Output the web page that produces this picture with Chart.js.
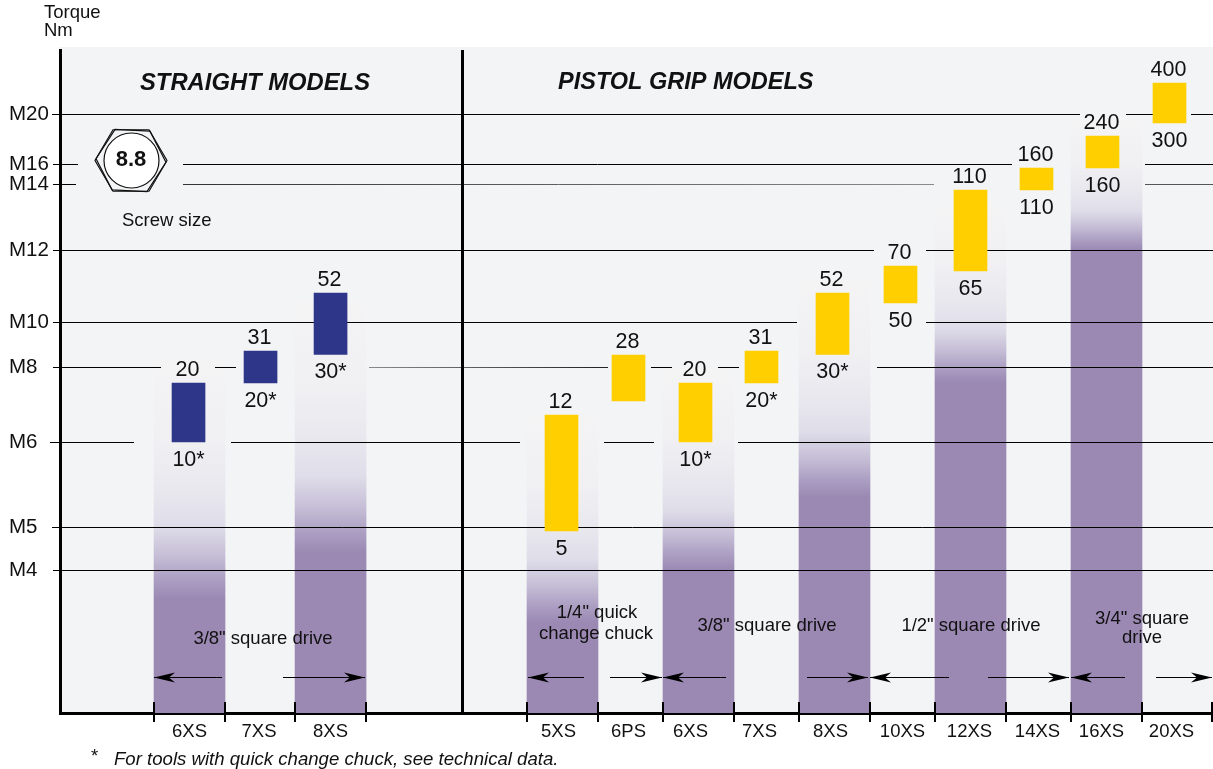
<!DOCTYPE html>
<html>
<head>
<meta charset="utf-8">
<title>Torque chart</title>
<style>
  html, body { margin: 0; padding: 0; background: #fff; }
  canvas { display: block; }
</style>
<script src="https://cdn.jsdelivr.net/npm/chart.js@4/dist/chart.umd.min.js"></script>
</head>
<body>
<canvas id="torqueChart" width="1213" height="769"></canvas>
<script>
// Tools
const straightTools = ['6XS', '7XS', '8XS']
const pistolTools = ['5XS', '6PS', '6XS', '7XS', '8XS', '10XS', '12XS', '14XS', '16XS', '20XS']

// Torque range of each tool, Nm (6PS has no printed lower value)
const straightLow = [10, 20, 30]
const straightHigh = [20, 31, 52]
const straightLowLabels = ['10*', '20*', '30*']
const straightHighLabels = ['20', '31', '52']
const pistolLow = [5, 15, 10, 20, 30, 50, 65, 110, 160, 300]
const pistolHigh = [12, 28, 20, 31, 52, 70, 110, 160, 240, 400]
const pistolLowLabels = ['5', '', '10*', '20*', '30*', '50', '65', '110', '160', '300']
const pistolHighLabels = ['12', '28', '20', '31', '52', '70', '110', '160', '240', '400']

// Purple drive columns: only on every other tool. Fade runs from top down to solid
const straightColumnTop = [27.5, null, 50.6]
const straightColumnSolid = [2.4, null, 3.9]
const pistolColumnTop = [12.4, null, 24, null, 60, null, 104.6, null, 310, null]
const pistolColumnSolid = [1.9, null, 3, null, 6.9, null, 20.3, null, 85, null]

// Screw sizes on the y axis and the torque they sit at
const screwSizes = ['M4', 'M5', 'M6', 'M8', 'M10', 'M12', 'M14', 'M16', 'M20']
const screwTorque = [3, 5.2, 10, 25, 42, 85, 118, 165, 330]

// The printed torque axis is not a regular scale: [Nm, pixel row] calibration
const torqueStops = [[0, 713], [3, 570], [5, 531], [5.2, 527], [10, 442], [12, 415], [15, 401], [20, 383], [25, 367], [28, 355], [30, 354.5], [31, 351],
  [42, 322], [50, 303], [52, 293], [65, 271], [70, 266], [85, 250], [110, 190], [118, 184], [160, 168], [165, 164], [240, 136], [300, 123], [330, 114], [400, 83], [540, 50]]

class TorqueScale extends Chart.LinearScale {
  getPixelForValue(value) {
    for (let i = 1; i < torqueStops.length; i++) {
      const [v0, p0] = torqueStops[i - 1]
      const [v1, p1] = torqueStops[i]
      if (value <= v1) return p0 + (value - v0) / (v1 - v0) * (p1 - p0)
    }
    return torqueStops[torqueStops.length - 1][1]
  }
  getValueForPixel(pixel) {
    for (let i = 1; i < torqueStops.length; i++) {
      const [v0, p0] = torqueStops[i - 1]
      const [v1, p1] = torqueStops[i]
      if (pixel >= p1) return v0 + (p0 - pixel) / (p0 - p1) * (v1 - v0)
    }
    return torqueStops[torqueStops.length - 1][0]
  }
}
TorqueScale.id = 'torque'
TorqueScale.defaults = Chart.LinearScale.defaults
Chart.register(TorqueScale)

// x axis is counted in tool slots, first pistol tool = 0
const slotPx = 68
const xMin = (60 - 562.5) / slotPx
const xMax = xMin + 1153 / slotPx
const straightSlots = straightTools.map((t, i) => -5.485 + i * 1.037)
const pistolSlots = pistolTools.map((t, i) => i)
const slots = straightSlots.concat(pistolSlots)

// boxes and tool names sit a little off the centre of their slot
const boxShiftPx = [-1, 0.5, 0, -1, -2, -3, -5, -2, -2, 0, -2, -4, -5]
const labelShiftPx = [0, -1, 0, -4, -2, -8, -7, -4, 0, -1, -1, -5, -3]
const boxSlots = slots.map((s, i) => s + boxShiftPx[i] / slotPx)
const labelSlots = slots.map((s, i) => s + labelShiftPx[i] / slotPx)

const tools = straightTools.concat(pistolTools)
const lows = straightLow.concat(pistolLow)
const highs = straightHigh.concat(pistolHigh)
const lowLabels = straightLowLabels.concat(pistolLowLabels)
const highLabels = straightHighLabels.concat(pistolHighLabels)
const columnTop = straightColumnTop.concat(pistolColumnTop)
const columnSolid = straightColumnSolid.concat(pistolColumnSolid)

const FONT = '"Liberation Sans", Arial, sans-serif'
const plotBg = '#f3f4f6'
const purple = '#9b89b3'
const blue = '#2e368a'
const yellow = '#ffcf00'

// Gridlines are broken around labels and boxes: [from, to] pixel runs per screw size
const gridRuns = {
  M20: [[52, 1080], [1126, 1153], [1191, 1213]],
  M16: [[53, 78], [183, 1012], [1145, 1213]],
  M14: [[53, 76], [183, 934, '#333', '#8a8a8a'], [1145, 1213, '#555', '#555']],
  M12: [[53, 874], [926, 1213]],
  M10: [[53, 797], [926, 1213]],
  M8: [[53, 161], [215, 236], [369, 608, '#8a8a8a', '#222'], [651, 672], [718, 739], [877, 1213]],
  M6: [[50, 134], [231, 520], [604, 654], [738, 1213]],
  M5: [[52, 1213]],
  M4: [[53, 1213]]
}

// Drive arrows: [tail, tip] in pixels
const arrowY = 677
const arrows = [[222, 154], [283, 365], [584, 528], [610, 662], [726, 663], [807, 868], [949, 870], [988, 1069], [1125, 1071], [1156, 1212]]

const driveNotes = [
  ['3/8" square drive', 263, 639],
  ['1/4" quick', 597, 613],
  ['change chuck', 596, 634],
  ['3/8" square drive', 767, 626],
  ['1/2" square drive', 971, 626],
  ['3/4" square', 1142, 619],
  ['drive', 1142, 638]
]

function columnFill(context) {
  const chart = context.chart
  if (!chart.chartArea || context.type !== 'data') return purple
  const i = context.dataIndex
  const y = chart.scales.y
  const grad = chart.ctx.createLinearGradient(0, y.getPixelForValue(columnTop[i]), 0, y.getPixelForValue(columnSolid[i]))
  grad.addColorStop(0, '#f4f4f5')
  grad.addColorStop(0.35, '#f0f0f3')
  grad.addColorStop(0.56, '#e8e7ee')
  grad.addColorStop(0.7, '#dfdde9')
  grad.addColorStop(0.83, '#c4bcd5')
  grad.addColorStop(0.92, '#ac9fc3')
  grad.addColorStop(1, purple)
  return grad
}

function text(ctx, str, x, y, font, align) {
  ctx.font = font
  ctx.fillStyle = '#111'
  ctx.textAlign = align || 'center'
  ctx.textBaseline = 'middle'
  ctx.fillText(str, x, y)
}

function hexagon(ctx, cx, cy, rx, ry, rot) {
  ctx.beginPath()
  for (let i = 0; i < 6; i++) {
    const a = i * Math.PI / 3 + rot
    const px = cx + rx * Math.cos(a)
    const py = cy + ry * Math.sin(a)
    if (i === 0) ctx.moveTo(px, py)
    else ctx.lineTo(px, py)
  }
  ctx.closePath()
  ctx.stroke()
}

const paperPlugin = {
  id: 'paper',
  beforeDraw(chart) {
    const { ctx, chartArea } = chart
    ctx.save()
    ctx.fillStyle = plotBg
    ctx.fillRect(chartArea.left - 1, chartArea.top - 3, chartArea.right - chartArea.left + 1, chartArea.bottom - chartArea.top + 3)
    ctx.restore()
  },
  // lines run over the purple columns but under the boxes
  afterDatasetDraw(chart, args) {
    if (args.index !== 0) return
    const { ctx, scales } = chart
    ctx.save()
    ctx.lineWidth = 1
    screwSizes.forEach((name, i) => {
      const y = Math.floor(scales.y.getPixelForValue(screwTorque[i])) + 0.5
      gridRuns[name].forEach(run => {
        let stroke = '#000'
        if (run[2]) {
          stroke = ctx.createLinearGradient(run[0], 0, run[1], 0)
          stroke.addColorStop(0, run[2])
          stroke.addColorStop(1, run[3])
        }
        ctx.strokeStyle = stroke
        ctx.beginPath()
        ctx.moveTo(run[0], y)
        ctx.lineTo(run[1], y)
        ctx.stroke()
      })
    })
    ctx.restore()
  },
  afterDraw(chart) {
    const { ctx, scales, chartArea } = chart
    const x = scales.x
    const y = scales.y
    ctx.save()

    // divider between straight and pistol models
    ctx.fillStyle = '#000'
    ctx.fillRect(461, chartArea.top, 3, chartArea.bottom - chartArea.top)

    // tick marks on the tool edges
    const edges = []
    columnTop.forEach((top, i) => {
      if (top !== null) edges.push(slots[i] - 35.5 / slotPx, slots[i] + 35.5 / slotPx)
    })
    edges.push(slots[slots.length - 1] + 37.5 / slotPx)
    ctx.strokeStyle = '#000'
    ctx.lineWidth = 2
    edges.forEach(e => {
      const px = Math.round(x.getPixelForValue(e))
      ctx.beginPath()
      ctx.moveTo(px, chartArea.bottom - 11)
      ctx.lineTo(px, chartArea.bottom + 9)
      ctx.stroke()
    })

    // torque values above and below the boxes
    const valueFont = '21.5px ' + FONT
    tools.forEach((t, i) => {
      const px = x.getPixelForValue(boxSlots[i])
      text(ctx, highLabels[i], px - 1, y.getPixelForValue(highs[i]) - 13, valueFont)
      if (lowLabels[i]) text(ctx, lowLabels[i], px, y.getPixelForValue(lows[i]) + 18, valueFont)
    })

    // arrows
    ctx.lineWidth = 1
    ctx.fillStyle = '#000'
    arrows.forEach(([tail, tip]) => {
      const dir = tip > tail ? 1 : -1
      ctx.beginPath()
      ctx.moveTo(tail, arrowY + 0.5)
      ctx.lineTo(tip, arrowY + 0.5)
      ctx.stroke()
      ctx.beginPath()
      ctx.moveTo(tip, arrowY + 0.5)
      ctx.lineTo(tip - dir * 21, arrowY - 4.5)
      ctx.lineTo(tip - dir * 15, arrowY + 0.5)
      ctx.lineTo(tip - dir * 21, arrowY + 5.5)
      ctx.closePath()
      ctx.fill()
    })

    driveNotes.forEach(([str, nx, ny]) => text(ctx, str, nx, ny, '18.5px ' + FONT))

    text(ctx, 'STRAIGHT MODELS', 140, 83, 'italic bold 23.8px ' + FONT, 'left')
    text(ctx, 'PISTOL GRIP MODELS', 558, 83, 'italic bold 23.5px ' + FONT, 'left')
    text(ctx, 'Torque', 44, 13, '18.5px ' + FONT, 'left')
    text(ctx, 'Nm', 44, 31, '18.5px ' + FONT, 'left')
    text(ctx, 'Screw size', 122, 221, '18.5px ' + FONT, 'left')
    text(ctx, '*', 91, 757, '18.5px ' + FONT, 'left')
    text(ctx, 'For tools with quick change chuck, see technical data.', 114, 760, 'italic 18.6px ' + FONT, 'left')

    // strength class nut
    ctx.strokeStyle = '#111'
    ctx.lineWidth = 1.2
    hexagon(ctx, 131, 160.5, 36, 35.5, 0)
    hexagon(ctx, 131, 160.5, 35, 35, 0.05)
    ctx.beginPath()
    ctx.arc(131.5, 160.5, 27.5, 0, Math.PI * 2)
    ctx.fillStyle = '#fff'
    ctx.fill()
    ctx.stroke()
    text(ctx, '8.8', 131, 160, 'bold 22px ' + FONT)

    ctx.restore()
  }
}

new Chart(document.getElementById('torqueChart'), {
  type: 'bar',
  data: {
    datasets: [
      {
        label: 'Drive column',
        order: 2,
        grouped: false,
        barThickness: 71,
        backgroundColor: columnFill,
        data: slots.map((s, i) => ({ x: s, y: columnTop[i] === null ? null : [0, columnTop[i]] }))
      },
      {
        label: 'Torque range',
        order: 1,
        grouped: false,
        barThickness: 33,
        backgroundColor: tools.map((t, i) => i < straightTools.length ? blue : yellow),
        data: boxSlots.map((s, i) => ({ x: s, y: [lows[i], highs[i]] }))
      }
    ]
  },
  options: {
    responsive: false,
    animation: false,
    layout: { padding: { left: 9, top: 50, right: 0, bottom: 20 } },
    plugins: { legend: { display: false }, tooltip: { enabled: false }, title: { display: false } },
    scales: {
      x: {
        type: 'linear',
        min: xMin,
        max: xMax,
        offset: false,
        grid: { display: false },
        border: { color: '#000', width: 3 },
        afterFit: scale => { scale.height = 36 },
        afterBuildTicks: scale => { scale.ticks = labelSlots.map(v => ({ value: v })) },
        ticks: {
          autoSkip: false,
          maxRotation: 0,
          padding: 0,
          color: '#111',
          font: { family: FONT, size: 18.5 },
          callback: (value, index) => tools[index]
        }
      },
      y: {
        type: 'torque',
        min: 0,
        max: 540,
        grid: { display: false },
        border: { color: '#000', width: 3 },
        afterFit: scale => { scale.width = 51 },
        afterBuildTicks: scale => { scale.ticks = screwTorque.map(v => ({ value: v })) },
        ticks: {
          autoSkip: false,
          crossAlign: 'far',
          padding: 0,
          color: '#111',
          font: { family: FONT, size: 20.5 },
          callback: (value, index) => screwSizes[index]
        }
      }
    }
  },
  plugins: [paperPlugin]
})
</script>
</body>
</html>
